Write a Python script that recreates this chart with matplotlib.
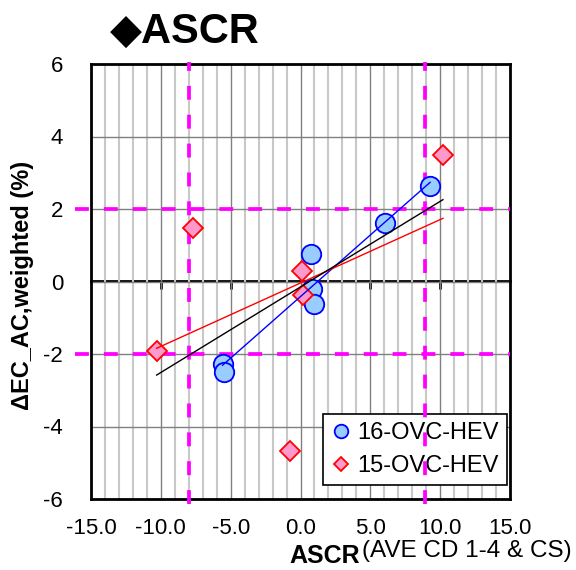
import numpy as np
import matplotlib.pyplot as plt

plt.rcParams['font.family'] = ['Liberation Sans', 'DejaVu Sans']
plt.rcParams['axes.unicode_minus'] = False

# 16-OVC-HEV (blue circles)
x16 = [9.28, 6.06, 0.74, 0.79, 0.94, -5.58, -5.46]
y16 = [2.63, 1.61, 0.76, -0.22, -0.62, -2.28, -2.49]
# 15-OVC-HEV (red diamonds)
x15 = [10.2, -7.72, -10.3, -0.78, 0.10, 0.19]
y15 = [3.49, 1.47, -1.92, -4.67, 0.30, -0.37]

# threshold lines
x_lim_lines = [-8.0, 8.9]
y_lim_lines = [-2.0, 2.0]

xticks = [-15, -10, -5, 0, 5, 10, 15]
yticks = [-6, -4, -2, 0, 2, 4, 6]

fig = plt.figure(figsize=(5.76, 5.7), dpi=100)
ax = fig.add_axes([91/576, 71/570, 419/576, 435/570])
ax.set_xlim(-15, 15)
ax.set_ylim(-6, 6)

# grid
ax.set_xticks(xticks)
ax.set_xticks(np.arange(-15, 16, 1), minor=True)
ax.set_yticks(yticks)
ax.set_xticklabels(['%.1f' % t for t in xticks])
ax.grid(True, which='minor', axis='x', color='#c8c8c8', lw=1.5, zorder=0)
ax.grid(True, which='major', axis='both', color='#808080', lw=1.0, zorder=0)
ax.set_axisbelow(True)
ax.tick_params(axis='both', which='both', length=0, labelsize=16)
ax.tick_params(axis='x', pad=14)
ax.tick_params(axis='y', pad=20)
for s in ax.spines.values():
    s.set_linewidth(2)
    s.set_color('black')

# zero line with small ticks
sec = ax.secondary_xaxis(0.5)
sec.set_alignment('bottom')
sec.set_xticks([-10, -5, 5, 10])
sec.tick_params(direction='out', length=6, width=2, color='black',
                labelbottom=False, labeltop=False)
sec.spines['bottom'].set_linewidth(2)

# magenta threshold lines
for xv in x_lim_lines:
    ax.axvline(xv, ymin=-0.012, ymax=1.004, color='#ff00ff', lw=2.7,
               dashes=(3.7, 4), clip_on=False, zorder=3)
for yv in y_lim_lines:
    ax.axhline(yv, xmin=-0.038, xmax=1.0, color='#ff00ff', lw=2.7,
               dashes=(3.7, 4), clip_on=False, zorder=3)

# points
ax.plot(x16, y16, 'o', ms=14, mfc='#99ccff', mec='#0000ff', mew=1.3,
        label='16-OVC-HEV', zorder=4, clip_on=False)
ax.plot(x15, y15, 'D', ms=10.5, mfc='#ff99cc', mec='#ff0000', mew=1.3,
        label='15-OVC-HEV', zorder=4, clip_on=False)

# linear fits
def fit_line(xs, ys, color):
    k, b = np.polyfit(xs, ys, 1)
    xx = np.array([min(xs), max(xs)])
    ax.plot(xx, k * xx + b, color=color, lw=1.0, zorder=5)

fit_line(x16, y16, '#0000ff')
fit_line(x15, y15, '#ff0000')
fit_line(x16 + x15, y16 + y15, 'black')

leg = ax.legend(loc='lower right', bbox_to_anchor=(0.993, 0.032), borderaxespad=0,
                fontsize=17, fancybox=False, edgecolor='black', framealpha=1,
                markerscale=0.7, handlelength=0.8, handletextpad=0.3,
                labelspacing=0.45, borderpad=0.35)
leg.get_frame().set_linewidth(1.2)
leg.set_zorder(2.5)

ax.set_ylabel('ΔEC_AC,weighted (%)', fontsize=17, fontweight='bold')
ax.yaxis.set_label_coords(-0.135, 0.49)

fig.text(110/576, 1 - 43/570, '◆ASCR', fontsize=30, fontweight='bold',
         ha='left', va='baseline')
fig.text(360/576, 1 - 563/570, 'ASCR', fontsize=18, fontweight='bold',
         ha='right', va='baseline')
fig.text(362/576, 1 - 557/570, '(AVE CD 1-4 & CS)', fontsize=17.5,
         ha='left', va='baseline')

fig.savefig('out.png', dpi=100)
